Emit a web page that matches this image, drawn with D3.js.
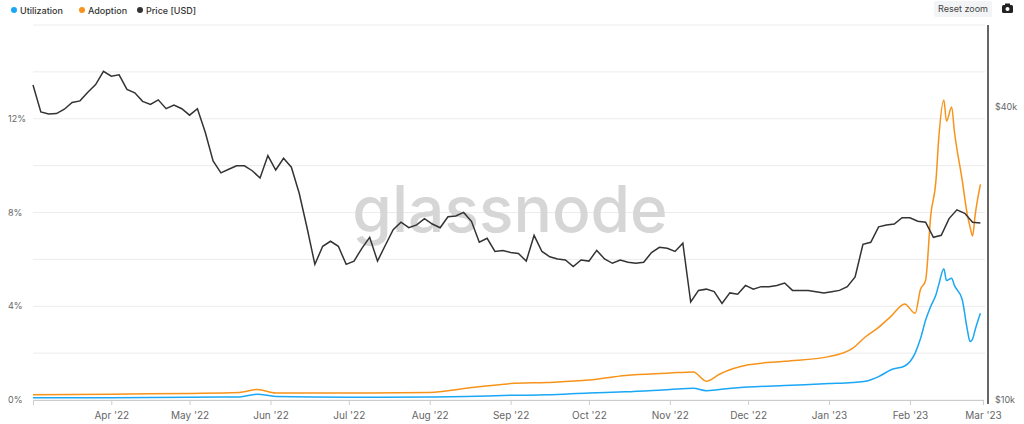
<!DOCTYPE html>
<html><head><meta charset="utf-8">
<script src="https://cdn.jsdelivr.net/npm/d3@7"></script>
<style>
body{margin:0;background:#fff;font-family:Inter,"Open Sans",sans-serif;}
text{font-family:Inter,"Open Sans",sans-serif;}
</style></head>
<body><svg id="chart" width="1024" height="424"></svg>
<script>
// price [USD], every 3 days from 2022-03-02
const priceStart = '2022-03-02';
const priceValues = [44.4,39.1,38.7,38.8,39.6,40.9,41.2,42.9,44.5,47.4,46.3,46.6,43.5,42.8,41.1,40.5,41.4,39.7,40.4,39.7,
  38.5,39.7,35.5,31.0,29.3,29.8,30.3,30.3,29.6,28.6,31.8,29.7,31.4,30.1,26.6,22.6,19.0,20.7,21.2,20.7,
  19.0,19.3,20.5,21.6,19.3,20.8,22.4,23.2,22.6,22.9,23.6,23.0,22.6,23.8,23.9,24.3,23.3,21.1,21.5,20.2,
  20.3,20.1,20.0,19.3,21.8,20.2,19.7,19.5,19.4,18.8,19.4,19.3,20.3,19.5,19.1,19.4,19.2,19.1,19.2,20.1,
  20.6,20.5,20.2,21.0,15.9,16.8,16.9,16.7,15.8,16.6,16.5,17.2,16.9,17.1,17.1,17.2,17.4,16.8,16.8,16.8,
  16.7,16.6,16.7,16.8,17.1,17.9,20.9,21.1,22.7,22.9,23.0,23.7,23.7,23.3,23.2,21.6,21.8,23.6,24.6,24.2,
  23.2,23.1];
// percent series
const pctDates = ['2022-03-02','2022-04-01','2022-05-01','2022-05-20','2022-05-27','2022-06-03','2022-07-01','2022-08-01','2022-08-15',
  '2022-09-01','2022-09-15','2022-10-01','2022-10-15','2022-11-01','2022-11-10','2022-11-15','2022-11-20','2022-12-01','2022-12-15',
  '2023-01-01','2023-01-10','2023-01-15','2023-01-20','2023-01-25','2023-01-30','2023-02-03','2023-02-05','2023-02-07','2023-02-09',
  '2023-02-11','2023-02-12','2023-02-14','2023-02-15','2023-02-17','2023-02-18','2023-02-21','2023-02-23','2023-02-24','2023-02-25',
  '2023-02-26','2023-02-28'];
const adoption = [0.22,0.25,0.28,0.32,0.45,0.3,0.3,0.32,0.5,0.7,0.75,0.85,1.05,1.15,1.2,0.8,1.1,1.5,1.65,
  1.85,2.2,2.7,3.1,3.6,4.1,3.7,4.7,5.1,7.9,9.4,11.1,12.8,11.9,12.5,11.5,9.4,7.9,7.4,7.0,7.9,9.2];
const utilization = [0.1,0.1,0.12,0.13,0.25,0.15,0.12,0.13,0.15,0.2,0.22,0.3,0.35,0.45,0.5,0.4,0.45,0.55,0.62,
  0.7,0.75,0.8,1.0,1.3,1.45,2.0,2.6,3.4,4.0,4.5,4.9,5.6,5.1,5.2,4.9,4.3,3.0,2.5,2.6,3.0,3.7];
const legendNames = ['Utilization','Adoption','Price [USD]'];
const colors = ['#1aa7f5','#f7931a','#333'];
const leftTicks = [0,4,8,12];
const rightTicks = [10000,40000];

const parse = d3.timeParse('%Y-%m-%d');
const svg = d3.select('#chart');
const x = d3.scaleTime().domain([parse('2022-03-02'), parse('2023-03-01')]).range([33, 983]);
const yL = d3.scaleLinear().domain([0,16]).range([400,25]);
const yR = d3.scaleLog().domain([10000,59000]).range([400,25]);

// grid
svg.append('g').selectAll('line').data(d3.range(0,17,2)).enter().append('line')
  .attr('x1',33).attr('x2',985).attr('y1',d=>yL(d)).attr('y2',d=>yL(d))
  .attr('stroke','#ececec');

// watermark
svg.append('text').attr('x',510).attr('y',232).attr('text-anchor','middle')
  .attr('font-size',64).attr('fill','#d6d6d6').attr('font-weight',500).text('glassnode');

// axes
const xAxis = svg.append('g').attr('transform','translate(0,400)')
  .call(d3.axisBottom(x).ticks(d3.timeMonth.every(1)).tickFormat(d=>d3.timeFormat("%b '%y")(d)).tickSize(5));
xAxis.select('.domain').attr('stroke','#ccc');
xAxis.selectAll('line').attr('stroke','#ccc');
xAxis.selectAll('text').attr('fill','#666').attr('font-size',10).attr('dy','1.1em');
xAxis.selectAll('.tick').filter(d=>d.getMonth()===2 && d.getFullYear()===2022).remove();

svg.append('g').selectAll('text').data(leftTicks).enter().append('text')
  .attr('x',8).attr('y',d=>yL(d)+3).attr('font-size',9).attr('fill','#666').text(d=>d+'%');
svg.append('line').attr('x1',988).attr('x2',988).attr('y1',25).attr('y2',404).attr('stroke','#333').attr('stroke-width',1.5);
svg.append('g').selectAll('text').data(rightTicks).enter().append('text')
  .attr('x',995).attr('y',d=>yR(d)+3).attr('font-size',9).attr('fill','#666').text(d=>'$'+d/1000+'k');

// lines
const pd = pctDates.map(parse);
const lineL = d3.line().curve(d3.curveMonotoneX).x((d,i)=>x(pd[i])).y(d=>yL(d));
svg.append('path').datum(adoption).attr('d',lineL).attr('fill','none').attr('stroke',colors[1]).attr('stroke-width',1.5);
svg.append('path').datum(utilization).attr('d',lineL).attr('fill','none').attr('stroke',colors[0]).attr('stroke-width',1.5);
const p0 = parse(priceStart);
const lineP = d3.line().x((d,i)=>x(d3.timeDay.offset(p0,i*3))).y(d=>yR(d*1000));
svg.append('path').datum(priceValues).attr('d',lineP).attr('fill','none').attr('stroke',colors[2]).attr('stroke-width',1.5);

// legend
const lg = svg.append('g').selectAll('g').data(legendNames).enter().append('g');
let lx = 14;
lg.each(function(d,i){
  const g = d3.select(this).attr('transform',`translate(${lx},10)`);
  g.append('circle').attr('r',3).attr('cy',0).attr('fill',colors[i]);
  g.append('text').attr('x',6).attr('y',3.5).attr('font-size',9).attr('font-weight',500).attr('fill','#333').text(d);
  lx += [68,58,0][i];
});

// reset zoom button + camera
svg.append('rect').attr('x',934).attr('y',1).attr('width',58).attr('height',16).attr('rx',2).attr('fill','#f3f4f6');
svg.append('text').attr('x',963).attr('y',12).attr('text-anchor','middle').attr('font-size',9).attr('fill','#444').text('Reset zoom');
svg.append('rect').attr('x',1002).attr('y',5).attr('width',11).attr('height',8).attr('rx',1.5).attr('fill','#222');
svg.append('rect').attr('x',1005).attr('y',3.5).attr('width',5).attr('height',2).attr('fill','#222');
svg.append('circle').attr('cx',1007.5).attr('cy',9).attr('r',2).attr('fill','#fff');
</script></body></html>
